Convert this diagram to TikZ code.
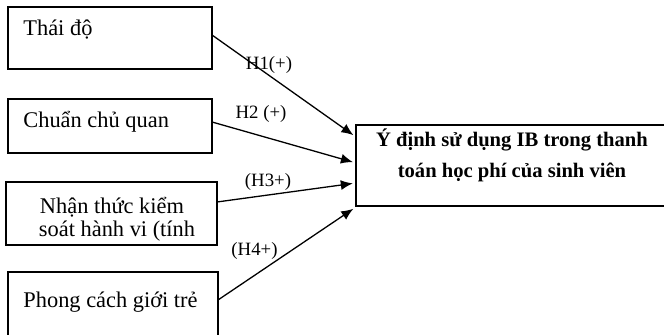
\documentclass[tikz,border=0pt]{standalone}
\usepackage{fontspec}
\setmainfont{Liberation Serif}
\usetikzlibrary{arrows.meta}
\begin{document}
\begin{tikzpicture}[x=0.5pt,y=0.5pt,
  box/.style={draw, line width=0.6pt, inner sep=0pt, outer sep=0pt},
  tbox/.style={draw, line width=0.85pt, inner sep=0pt, outer sep=0pt},
  txt/.style={inner sep=0pt, font=\fontsize{11.2}{13}\selectfont},
  btxt/.style={inner sep=0pt, font=\fontsize{10.3}{13}\selectfont\bfseries},
  hlbl/.style={inner sep=0pt, font=\fontsize{9.4}{11}\selectfont},
  arr/.style={line width=0.65pt, -{Latex[length=6pt,width=5pt]}, shorten >=1.6pt}]
\useasboundingbox (0,0) rectangle (664,335);
\clip (0,0) rectangle (664,335);
% boxes
\node[box, minimum width=102pt, minimum height=31pt] (b1) at (110,297) {};
\node[box, minimum width=102pt, minimum height=27pt] (b2) at (110,209) {};
\node[box, minimum width=105.5pt, minimum height=31.5pt] (b3) at (111.5,121.5) {};
\node[box, minimum width=105pt, minimum height=36.5pt] (b4) at (113,26.5) {};
\node[tbox, minimum width=158pt, minimum height=40.5pt] (T) at (514,169.5) {};
% texts
\node[txt, anchor=base west] (t1) at (23,299) {Thái độ};
\node[txt, anchor=base west] (t2) at (23,207) {Chuẩn chủ quan};
\node[txt, anchor=base] (t3a) at (112,121) {Nhận thức kiểm};
\node[txt, anchor=base] (t3b) at (117,98) {soát hành vi (tính};
\node[txt, anchor=base west] (t4) at (23,27) {Phong cách giới trẻ};
\node[btxt, anchor=base] (tt1) at (512,188) {Ý định sử dụng IB trong thanh};
\node[btxt, anchor=base] (tt2) at (512,157) {toán học phí của sinh viên};
% arrows
\draw[arr] ([yshift=1.5pt]b1.east) -- ([yshift=14.25pt]T.west);
\draw[arr] ([yshift=2pt]b2.east) -- ([yshift=1.25pt]T.west);
\draw[arr] ([yshift=5.75pt]b3.east) -- ([yshift=-8.75pt]T.west);
\draw[arr] ([yshift=4.25pt]b4.east) -- ([yshift=-20.75pt]T.west);
% labels
\node[hlbl] (h1) at (269,270.5) {H1(+)};
\node[hlbl] (h2) at (261,221) {H2 (+)};
\node[hlbl] (h3) at (268,153.5) {(H3+)};
\node[hlbl] (h4) at (254.5,84) {(H4+)};
\end{tikzpicture}
\end{document}
